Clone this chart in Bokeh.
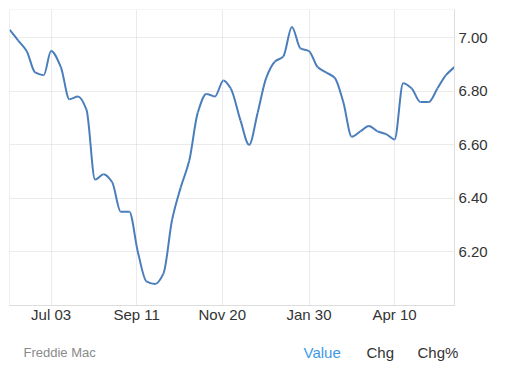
import numpy as np
import pandas as pd
from bokeh.plotting import figure
from bokeh.layouts import column
from bokeh.models import (Range1d, FixedTicker, DatetimeTickFormatter, Span,
                          NumeralTickFormatter, ColumnDataSource)
from bokeh.core.properties import value
from bokeh.embed import file_html
from bokeh.resources import INLINE

# Weekly 30-year fixed mortgage rate (Freddie Mac PMMS)
dates = ["2024-05-30", "2024-06-06", "2024-06-13", "2024-06-20", "2024-06-27", "2024-07-03",
         "2024-07-11", "2024-07-18", "2024-07-25", "2024-08-01", "2024-08-08", "2024-08-15",
         "2024-08-22", "2024-08-29", "2024-09-05", "2024-09-12", "2024-09-19", "2024-09-26",
         "2024-10-03", "2024-10-10", "2024-10-17", "2024-10-24", "2024-10-31", "2024-11-07",
         "2024-11-14", "2024-11-21", "2024-11-27", "2024-12-05", "2024-12-12", "2024-12-19",
         "2024-12-26", "2025-01-02", "2025-01-09", "2025-01-16", "2025-01-23", "2025-01-30",
         "2025-02-06", "2025-02-13", "2025-02-20", "2025-02-27", "2025-03-06", "2025-03-13",
         "2025-03-20", "2025-03-27", "2025-04-03", "2025-04-10", "2025-04-17", "2025-04-24",
         "2025-05-01", "2025-05-08", "2025-05-15", "2025-05-22", "2025-05-29"]
rates = [7.03, 6.99, 6.95, 6.87, 6.86, 6.95,
         6.89, 6.77, 6.78, 6.73, 6.47, 6.49,
         6.46, 6.35, 6.35, 6.20, 6.09, 6.08,
         6.12, 6.32, 6.44, 6.54, 6.72, 6.79,
         6.78, 6.84, 6.81, 6.69, 6.60, 6.72,
         6.85, 6.91, 6.93, 7.04, 6.96, 6.95,
         6.89, 6.87, 6.85, 6.76, 6.63, 6.65,
         6.67, 6.65, 6.64, 6.62, 6.83, 6.81,
         6.76, 6.76, 6.81, 6.86, 6.89]
tick_dates = ["2024-07-03", "2024-09-11", "2024-11-20", "2025-01-30", "2025-04-10"]
y_ticks = [6.2, 6.4, 6.6, 6.8, 7.0]
source_name = ["Freddie Mac"]
tabs = ["Value", "Chg", "Chg%"]

# --- smooth (monotone cubic) rendering of the weekly series as bezier segments ---
t = pd.to_datetime(dates)
xd = np.array([(d - t[0]).days for d in t], dtype=float)
y = np.array(rates, dtype=float)
h = np.diff(xd)
delta = np.diff(y) / h
m = np.zeros_like(y)
m[0], m[-1] = delta[0], delta[-1]
for i in range(1, len(y) - 1):
    if delta[i - 1] * delta[i] <= 0:
        m[i] = 0.0
    else:
        w1 = 2 * h[i] + h[i - 1]
        w2 = h[i] + 2 * h[i - 1]
        m[i] = (w1 + w2) / (w1 / delta[i - 1] + w2 / delta[i])
ms = np.array([d.value / 1e6 for d in t])
day_ms = 86400000.0
seg = dict(
    x0=ms[:-1], y0=y[:-1], x1=ms[1:], y1=y[1:],
    cx0=ms[:-1] + h / 3 * day_ms, cy0=y[:-1] + m[:-1] * h / 3,
    cx1=ms[1:] - h / 3 * day_ms, cy1=y[1:] - m[1:] * h / 3,
)
src = ColumnDataSource(seg)

W = 503
p = figure(output_backend="svg", toolbar_location=None,
           x_axis_type="datetime", y_axis_location="right",
           frame_width=445, frame_height=296,
           min_border_left=9, min_border_top=9, min_border_right=W - 9 - 445, min_border_bottom=26,
           x_range=Range1d(ms[0], ms[-1]), y_range=Range1d(6.0, 7.105),
           background_fill_color="white", border_fill_color="white")
p.outline_line_color = None

p.bezier(x0="x0", y0="y0", x1="x1", y1="y1", cx0="cx0", cy0="cy0", cx1="cx1", cy1="cy1",
         source=src, line_color="#4a7ebb", line_width=2)

tick_ms = [pd.Timestamp(d).value / 1e6 for d in tick_dates]
p.xaxis.ticker = FixedTicker(ticks=tick_ms)
p.xaxis.formatter = DatetimeTickFormatter(days="%b %d", months="%b %d")
p.yaxis.ticker = FixedTicker(ticks=y_ticks)
p.yaxis.formatter = NumeralTickFormatter(format="0.00")

for ax in (p.xaxis[0], p.yaxis[0]):
    ax.axis_line_color = "#dddddd"
    ax.major_tick_line_color = None
    ax.minor_tick_line_color = None
    ax.major_tick_out = 0
    ax.major_tick_in = 0
    ax.minor_tick_out = 0
    ax.minor_tick_in = 0
    ax.major_label_text_font = "Liberation Sans"
    ax.major_label_text_font_size = "15px"
    ax.major_label_text_color = "#333333"
p.xaxis.major_label_standoff = 0
p.yaxis.major_label_standoff = 4

for g in (p.xgrid[0], p.ygrid[0]):
    g.grid_line_color = "#d6d6d6"
    g.grid_line_dash = "1 1"

p.add_layout(Span(location=ms[0], dimension="height", line_color="#dddddd", line_width=1))
p.add_layout(Span(location=7.105, dimension="width", line_color="#d6d6d6", line_width=1,
                  line_dash="1 1"))

# footer strip (pixel coordinates, y measured downward)
FH = 40
f = figure(output_backend="svg", toolbar_location=None, x_axis_type=None, y_axis_type=None,
           frame_width=W, frame_height=FH, min_border=0,
           x_range=Range1d(0, W), y_range=Range1d(FH, 0),
           background_fill_color="white", border_fill_color="white")
f.outline_line_color = None
f.xgrid.visible = False
f.ygrid.visible = False
f.text(x=[14], y=[21], text=source_name, text_font=value("Liberation Sans"),
       text_font_size="13px", text_color="#8a8a8a", text_baseline="alphabetic")
f.text(x=[294, 357, 408], y=[21, 21, 21], text=tabs, text_font=value("Liberation Sans"),
       text_font_size="15px", text_color=["#3d9ae8", "#333333", "#333333"],
       text_baseline="alphabetic")

layout = column(p, f, spacing=0)
open("out.html", "w").write(file_html(layout, INLINE))
